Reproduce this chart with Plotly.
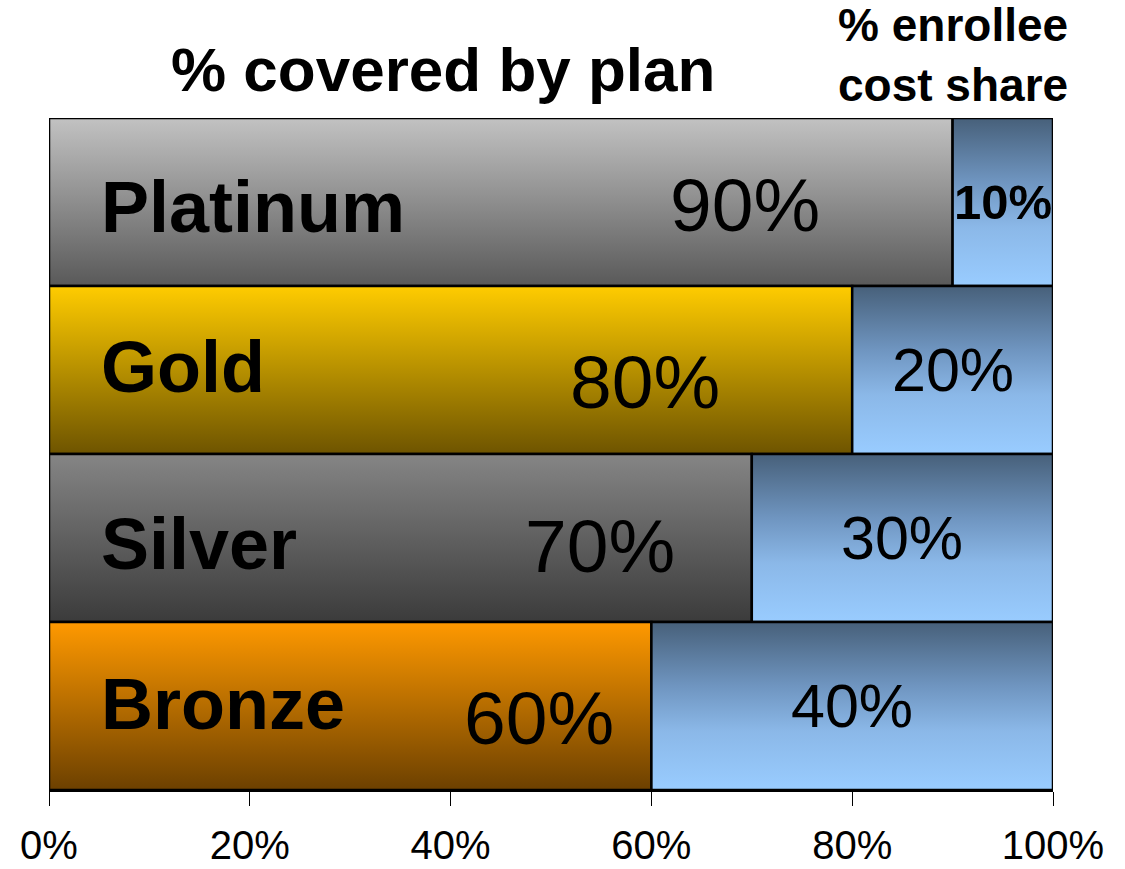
import plotly.graph_objects as go

# Plan tiers, listed top to bottom
plans = ["Platinum", "Gold", "Silver", "Bronze"]
covered_pct = [90, 80, 70, 60]      # share paid by the plan
enrollee_pct = [10, 20, 30, 40]     # share paid by the enrollee

tick_vals = [0, 20, 40, 60, 80, 100]
tick_text = ["0%", "20%", "40%", "60%", "80%", "100%"]

# Vertical gradients (bottom colour, top colour) for each tier
tier_colors = {
    "Platinum": ["#595959", "#c2c2c2"],
    "Gold": ["#6e5400", "#ffcc00"],
    "Silver": ["#3b3b3b", "#858585"],
    "Bronze": ["#6c4000", "#ff9900"],
}
share_scale = [[0, "#99ccff"], [0.35, "#8bb8e8"], [0.62, "#6f95c0"], [1, "#47607a"]]

# Fine placement of the in-bar percentage labels (x units, pixels)
covered_label_pad = [13, 13, 7.5, 3.5]
covered_label_drop = [3, 12, 8, 12]
name_label_drop = [5, -3, 6, -2]

FONT = "Liberation Sans, Arial, sans-serif"
HALF = 0.5

fig = go.Figure()
n = len(plans)
row_y = [n - 1 - i for i in range(n)]


def add_segment(x0, x1, yc, scale):
    fig.add_trace(go.Scatter(
        x=[x0, x1, x1, x0, x0],
        y=[yc - HALF, yc - HALF, yc + HALF, yc + HALF, yc - HALF],
        mode="lines",
        fill="toself",
        fillgradient=dict(type="vertical", colorscale=scale),
        line=dict(color="black", width=2.5),
        hoverinfo="skip",
        showlegend=False,
    ))


annotations = []
for i, plan in enumerate(plans):
    yc = row_y[i]
    cov = covered_pct[i]
    enr = enrollee_pct[i]
    bottom, top = tier_colors[plan]
    add_segment(0, cov, yc, [[0, bottom], [1, top]])
    add_segment(cov, cov + enr, yc, share_scale)

    annotations.append(dict(
        x=5, y=yc, xref="x", yref="y", xanchor="left", yanchor="middle",
        yshift=-name_label_drop[i],
        text=f"<b>{plan}</b>", showarrow=False,
        font=dict(family=FONT, size=72, color="black"),
    ))
    annotations.append(dict(
        x=cov - covered_label_pad[i], y=yc, xref="x", yref="y",
        xanchor="right", yanchor="middle", yshift=-covered_label_drop[i],
        text=f"{cov}%", showarrow=False,
        font=dict(family=FONT, size=75, color="black"),
    ))
    small = enr < 15
    annotations.append(dict(
        x=cov + enr / 2, y=yc, xref="x", yref="y",
        xanchor="center", yanchor="middle",
        text=f"<b>{enr}%</b>" if small else f"{enr}%", showarrow=False,
        font=dict(family=FONT, size=49 if small else 61, color="black"),
    ))

annotations.append(dict(
    x=0.392, y=1.072, xref="paper", yref="paper",
    xanchor="center", yanchor="middle",
    text="<b>% covered by plan</b>", showarrow=False,
    font=dict(family=FONT, size=62, color="black"),
))
annotations.append(dict(
    x=0.9004, y=1.094, xref="paper", yref="paper",
    xanchor="center", yanchor="middle",
    text="<b>% enrollee<br>cost share</b>", showarrow=False,
    font=dict(family=FONT, size=46, color="black"),
))

fig.update_layout(
    width=1125, height=869,
    margin=dict(l=49, r=72, t=118, b=79, autoexpand=False),
    paper_bgcolor="white", plot_bgcolor="white",
    annotations=annotations,
    xaxis=dict(
        range=[0, 100], tickvals=tick_vals, ticktext=tick_text,
        ticks="outside", ticklen=14, tickwidth=1, tickcolor="black",
        showline=True, linecolor="black", linewidth=2,
        showgrid=False, zeroline=False, ticklabelstandoff=5,
        tickfont=dict(family=FONT, size=40, color="black"),
        automargin=False, fixedrange=True,
    ),
    yaxis=dict(
        range=[-0.5, n - 0.5], visible=False, showgrid=False,
        zeroline=False, automargin=False, fixedrange=True,
    ),
    showlegend=False,
)

fig.write_html("out.html")
